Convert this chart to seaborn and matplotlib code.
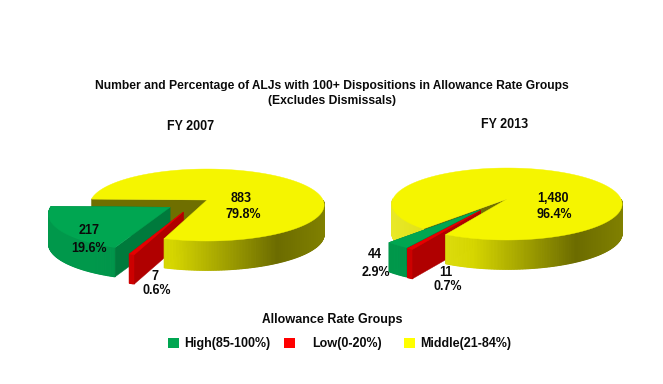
import numpy as np
import matplotlib
matplotlib.use("Agg")
import matplotlib.pyplot as plt
from matplotlib.patches import Rectangle
import seaborn as sns

# data
groups = ["High(85-100%)", "Low(0-20%)", "Middle(21-84%)"]
counts_2007 = [217, 7, 883]
counts_2013 = [44, 11, 1480]
pct_2007 = ["19.6%", "0.6%", "79.8%"]
pct_2013 = ["2.9%", "0.7%", "96.4%"]
count_labels_2007 = ["217", "7", "883"]
count_labels_2013 = ["44", "11", "1,480"]

sns.set_theme(style="white")
plt.rcParams['font.family'] = ['Liberation Sans', 'DejaVu Sans']
plt.rcParams['text.hinting'] = 'no_autohint'

W, H = 663, 384
TILT = 0.139
DEPTH = 0.83  # in units of ry
top_cols = ["#00A651", "#E60000", "#F5F500"]
cut_cols = ["#007A3C", "#B00000", "#6F6F00"]
legend_cols = ["#00A651", "#FF0000", "#FFFF00"]
rim_stops = [
    [(0, 152, 75), (0, 142, 70), (0, 125, 60), (0, 125, 60)],
    [(205, 0, 0), (205, 0, 0), (190, 0, 0), (190, 0, 0)],
    [(232, 232, 40), (214, 214, 0), (108, 108, 0), (128, 128, 0)],
]
stop_x = [-1.0, -0.3, 0.6, 1.0]


def project(u, v):
    s = 1 + TILT * np.asarray(v)
    return np.asarray(u) / s, np.asarray(v) / s


def rim_color(g, x):
    st = np.array(rim_stops[g]) / 255
    return [np.interp(x, stop_x, st[:, i]) for i in range(3)]


def slice_xy(a0, a1, offset):
    t = np.linspace(a0, a1, max(4, int(abs(a1 - a0) * 1.5)))
    apex = project(offset[0], offset[1])
    xs, ys = project(offset[0] + np.cos(np.radians(t)), offset[1] + np.sin(np.radians(t)))
    return apex, xs, ys, t


def draw_cut(ax, g, shape, i):
    (x0, y0), xs, ys, _ = shape
    ax.fill([x0, xs[i], xs[i], x0], [y0, ys[i], ys[i] - DEPTH, y0 - DEPTH],
            color=cut_cols[g], lw=0.3)


def draw_wall(ax, g, shape, keep=None):
    _, xs, ys, t = shape
    for i in range(len(xs) - 1):
        if keep is not None and not keep(t[i]):
            continue
        c = rim_color(g, (xs[i] + xs[i + 1]) / 2)
        ax.fill([xs[i], xs[i + 1], xs[i + 1], xs[i]],
                [ys[i], ys[i + 1], ys[i + 1] - DEPTH, ys[i] - DEPTH],
                color=c, lw=0.8)


def draw_top(ax, g, shape):
    (x0, y0), xs, ys, _ = shape
    ax.fill(np.r_[x0, xs], np.r_[y0, ys], color=top_cols[g], lw=0.3)


def draw_pie(cx, cy, rx, ry, counts, start, offsets):
    aw, ah = 420, 240
    ax = fig.add_axes([(cx - aw / 2) / W, 1 - (cy + ah / 2) / H, aw / W, ah / H])
    ax.set_xlim(-aw / 2 / rx, aw / 2 / rx)
    ax.set_ylim(-ah / 2 / ry, ah / 2 / ry)
    ax.axis("off")
    ax.patch.set_alpha(0)
    angles = 360 * np.array(counts) / sum(counts)
    # clockwise from start: middle, low, high
    shapes = {}
    a = start
    for g in (2, 1, 0):
        shapes[g] = slice_xy(a, a - angles[g], offsets[g])
        a -= angles[g]
    # the original paints the yellow wall over the pulled out slices,
    # except the bit of wall left of the gap, which stays behind them.
    # the back of the yellow wall (0-180 deg) is never drawn
    draw_cut(ax, 2, shapes[2], 0)
    draw_wall(ax, 2, shapes[2], keep=lambda d: d >= 180)
    draw_cut(ax, 0, shapes[0], -1)
    draw_wall(ax, 0, shapes[0])
    draw_cut(ax, 0, shapes[0], 0)
    draw_cut(ax, 1, shapes[1], -1)
    draw_wall(ax, 1, shapes[1])
    draw_cut(ax, 1, shapes[1], 0)
    draw_cut(ax, 2, shapes[2], -1)
    draw_wall(ax, 2, shapes[2], keep=lambda d: d < 0)
    draw_top(ax, 2, shapes[2])
    draw_top(ax, 0, shapes[0])
    draw_top(ax, 1, shapes[1])


fig = plt.figure(figsize=(W / 100, H / 100), dpi=100, facecolor="white")

draw_pie(207, 200, 116, 35.3, counts_2007, 178.5, [(-0.31, -0.2), (-0.195, -0.327), (0, 0)])
draw_pie(507, 199, 114, 35.3, counts_2013, 229, [(-0.227, -0.297), (-0.22, -0.31), (0, 0)])


def label(x, y, s, size=9.0):
    fig.text(x / W, 1 - y / H, s, ha="center", va="center", fontsize=size,
             fontweight="bold", color="#0a0a0a", zorder=5)


label(332, 85.5, "Number and Percentage of ALJs with 100+ Dispositions in Allowance Rate Groups", 8.75)
label(332, 100, "(Excludes Dismissals)", 8.75)
label(191, 127, "FY 2007")
label(505, 125, "FY 2013")

pos_2007 = [(89, 231, 89, 249), (155, 276, 157, 290), (241, 199, 243, 214)]
pos_2013 = [(375, 254, 376, 272), (446, 272, 448, 287), (553, 199, 554, 215)]
for (x1, y1, x2, y2), c, p in zip(pos_2007, count_labels_2007, pct_2007):
    label(x1, y1, c)
    label(x2, y2, p)
for (x1, y1, x2, y2), c, p in zip(pos_2013, count_labels_2013, pct_2013):
    label(x1, y1, c)
    label(x2, y2, p)

label(332, 320, "Allowance Rate Groups")
for name, col, sx, tx in zip(groups, legend_cols, [168, 284, 404], [184, 312, 420]):
    fig.add_artist(Rectangle((sx / W, 1 - 348 / H), 11 / W, 10 / H, transform=fig.transFigure,
                             color=col, lw=0))
    fig.text(tx / W, 1 - 343 / H, name, ha="left", va="center", fontsize=9.0,
             fontweight="bold", color="#0a0a0a")

fig.savefig("out.png", dpi=100)
